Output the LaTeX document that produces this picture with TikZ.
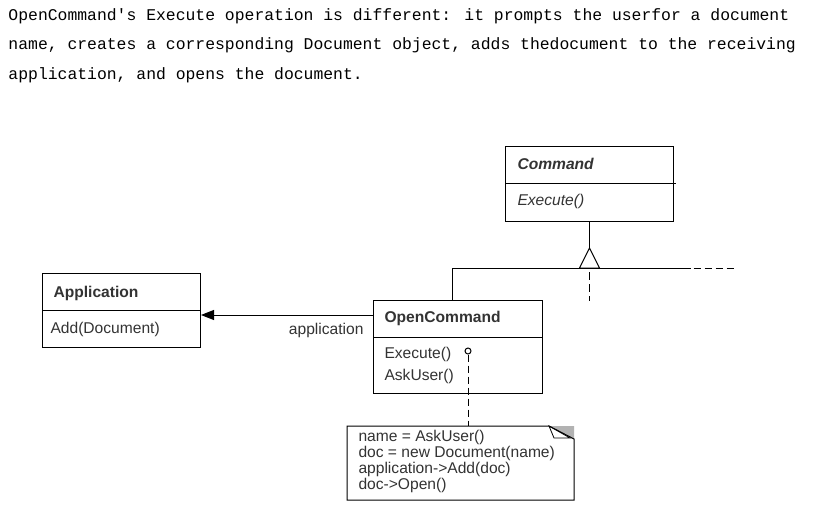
\documentclass[tikz,border=0pt]{standalone}
\usepackage{fontspec}
\setmainfont{Liberation Sans}
\newfontfamily\codefont{Liberation Mono}
\usepackage{tikz}
\usetikzlibrary{arrows.meta}

\tikzset{
  classbox/.style={draw, rectangle, anchor=north west, inner sep=0pt},
  umltext/.style={anchor=base west, inner sep=0pt, text=black!80,
    font=\fontsize{15.6}{16}\selectfont},
  prose/.style={anchor=base west, inner sep=0pt,
    font=\codefont\fontsize{16.4}{18}\selectfont},
}

\begin{document}
\begin{tikzpicture}[x=1pt, y=-1pt, line width=1pt]

\useasboundingbox (0,0) rectangle (826,529);

% the text above the diagram
\node[prose] (line1) at (8,21) {OpenCommand\textquotesingle s Execute operation is different: it prompts the userfor a document};
\node[prose] (line2) at (8,50) {name, creates a corresponding Document object, adds thedocument to the receiving};
\node[prose] (line3) at (8,80) {application, and opens the document.};

% draw the class boxes
\node[classbox, minimum width=168pt, minimum height=75pt] (command) at (505,146) {};
\node[classbox, minimum width=158pt, minimum height=74pt] (app) at (42,273) {};
\node[classbox, minimum width=169pt, minimum height=93pt] (opencmd) at (373,300) {};

% dividers between name and operations
\draw ([yshift=-38pt]command.north west) -- ([yshift=-38pt, xshift=1.5pt]command.north east);
\draw ([yshift=-37pt]app.north west) -- ([yshift=-37pt]app.north east);
\draw ([yshift=-37pt]opencmd.north west) -- ([yshift=-37pt]opencmd.north east);

% class names and operations
\node[umltext, font=\fontsize{15.6}{16}\selectfont\bfseries\itshape] (cmdname) at (517,170) {Command};
\node[umltext, font=\fontsize{15.6}{16}\selectfont\itshape] (cmdop) at (517,206) {Execute()};
\node[umltext, font=\fontsize{15.6}{16}\selectfont\bfseries] (appname) at (53,297) {Application};
\node[umltext] (appop) at (50,333) {Add(Document)};
\node[umltext, font=\fontsize{15.6}{16}\selectfont\bfseries] (ocname) at (384,322) {OpenCommand};
\node[umltext] (ocop1) at (384,358) {Execute()};
\node[umltext] (ocop2) at (384,380) {AskUser()};

% inheritance triangle
\coordinate (tribase) at ([yshift=-46pt]command.south);
\coordinate (tritip) at ([yshift=-26pt]command.south);
\draw (command.south) -- (tritip);
\draw (tritip) -- ([xshift=-10pt]tribase) -- ([xshift=10pt]tribase) -- cycle;
\draw ([xshift=-5.5pt]opencmd.north) |- ([xshift=101pt]tribase);
\draw[dash pattern=on 7pt off 4pt] ([xshift=104pt]tribase) -- ++(40,0);
\draw[dash pattern=on 8pt off 4pt] ([yshift=-4pt]tribase) -- ([yshift=-33pt]tribase);

% association to the application
\draw[-{Triangle[length=13pt, width=10pt]}] ([yshift=-15pt]opencmd.north west)
  -- ([yshift=-15pt]opencmd.north west -| app.east);
\node[umltext, anchor=base east] (assoc) at (364,334) {application};

% note with the code of Execute
\node[classbox, draw=none, minimum width=226pt, minimum height=73pt] (note) at (347,426) {};
\fill[gray!60] ([xshift=-25pt]note.north east) -- (note.north east) -- ([yshift=-13pt]note.north east) -- cycle;
\filldraw[fill=white, line width=0.8pt] ([xshift=-25pt]note.north east) -- ([xshift=-20pt, yshift=-12pt]note.north east)
  -- ([xshift=-4pt, yshift=-12pt]note.north east) -- cycle;
\draw (note.north west) -- ([xshift=-25pt]note.north east) -- ([yshift=-13pt]note.north east)
  -- (note.south east) -- (note.south west) -- cycle;
\node[umltext, anchor=north west, align=left] (code) at (358,430)
  {name = AskUser()\\doc = new Document(name)\\application->Add(doc)\\doc->Open()};

% note link
\node[circle, draw, inner sep=0pt, minimum size=6pt] (dot) at (468,351) {};
\draw[dash pattern=on 7pt off 4pt] (dot.south) -- (dot.south |- note.north);

\end{tikzpicture}
\end{document}
